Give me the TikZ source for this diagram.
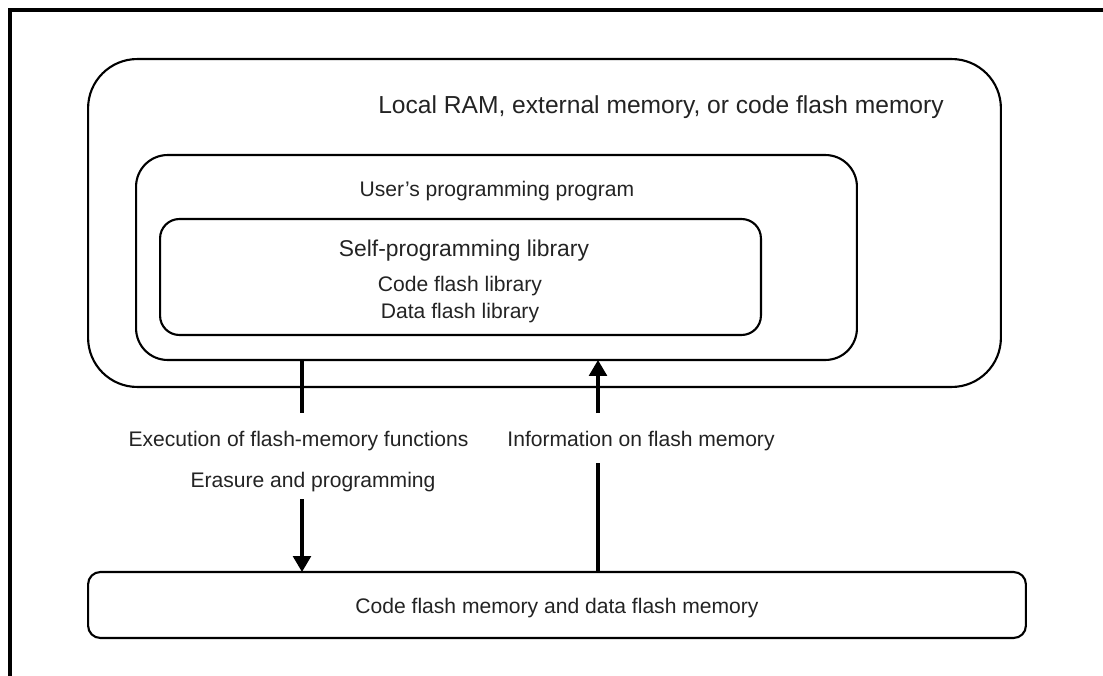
\documentclass[tikz,border=0pt]{standalone}
\usepackage{fontspec}
\setmainfont{Liberation Sans}
\usepackage{tikz}
\usetikzlibrary{arrows.meta, positioning, calc}
\definecolor{textgray}{RGB}{35, 35, 35}

\tikzset{
    membox/.style={draw, line width=1.2pt, outer sep=0pt, inner sep=0pt},
    lbl/.style={inner sep=0pt, anchor=base, text=textgray, font=\fontsize{12}{14}\selectfont},
    flow/.style={line width=1.9pt},
    flowtip/.style={line width=1.9pt, -{Triangle[width=10pt, length=9pt]}}
}

\begin{document}
\begin{tikzpicture}[x=0.02cm, y=-0.02cm]
        \useasboundingbox (0,0) rectangle (1103,676);

        % Page frame
        \draw[line width=2pt] (10,676) -- (10,10) -- (1103,10);

        % Boxes
        \node[membox, rounded corners=28pt, minimum width=18.26cm, minimum height=6.56cm] (ram) at (544.5,223) {};
        \node[membox, rounded corners=18pt, minimum width=14.42cm, minimum height=4.10cm] (userprog) at (496.5,257.5) {};
        \node[membox, rounded corners=11pt, minimum width=12.02cm, minimum height=2.32cm] (selflib) at (460.5,277) {};
        \node[membox, rounded corners=7pt, minimum width=18.76cm, minimum height=1.32cm] (flashmem) at (557,605) {};

        % Labels
        \node[lbl, font=\fontsize{14}{16}\selectfont] (ramlbl) at (661,113) {Local RAM, external memory, or code flash memory};
        \node[lbl] (userlbl) at (497,196) {User’s programming program};
        \node[lbl, font=\fontsize{13}{15}\selectfont] (selflbl) at (464,256) {Self-programming library};
        \node[lbl] (codelib) at (460,291) {Code flash library};
        \node[lbl] (datalib) at (460,318) {Data flash library};
        \node[lbl] (execlbl) at (298.5,446) {Execution of flash-memory functions};
        \node[lbl] (eraselbl) at (313,487) {Erasure and programming};
        \node[lbl] (infolbl) at (641,446) {Information on flash memory};
        \node[lbl] (memlbl) at (557,613) {Code flash memory and data flash memory};

        % Arrow ends around the labels
        \coordinate (exectop) at (302,413);
        \coordinate (execbot) at (302,499);
        \coordinate (infotop) at (598,413);
        \coordinate (infobot) at (598,463);

        % Flow arrows
        \draw[flow] (userprog.south -| exectop) -- (exectop);
        \draw[flowtip] (execbot) -- (execbot |- flashmem.north);
        \draw[flow] (flashmem.north -| infobot) -- (infobot);
        \draw[flowtip] (infotop) -- (infotop |- userprog.south);
    \end{tikzpicture}
\end{document}
